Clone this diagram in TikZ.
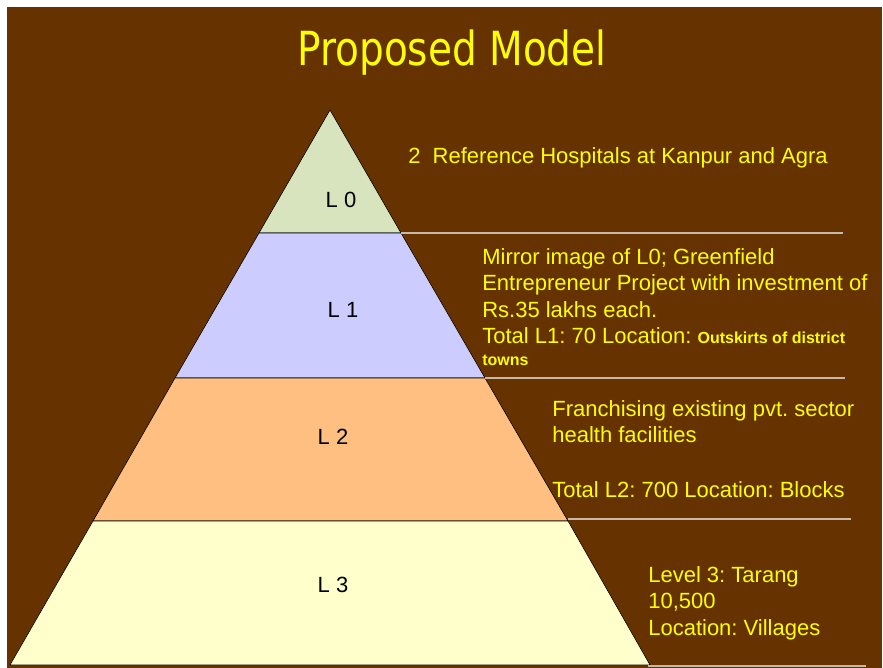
\documentclass[tikz,border=0pt]{standalone}
\usepackage{fontspec}
\setmainfont{Liberation Sans}
\newfontfamily\titlefont{DejaVu Sans}[FakeStretch=0.83]
\definecolor{slidebrown}{HTML}{663300}
\definecolor{slideyellow}{HTML}{FFFF00}
\definecolor{tierzero}{HTML}{D7E4BD}
\definecolor{tierone}{HTML}{CCCCFF}
\definecolor{tiertwo}{HTML}{FFBF80}
\definecolor{tierthree}{HTML}{FFFFCC}
\definecolor{rulegray}{HTML}{C8B8A8}
\begin{document}
\frenchspacing
\begin{tikzpicture}[x=1pt,y=-1pt,line width=.6pt,
  tier/.style={draw=black,line join=round},
  sep/.style={draw=rulegray,line width=1.2pt},
  lvl/.style={text=black,font=\fontsize{22}{24}\selectfont,inner sep=0pt},
  info/.style={text=slideyellow,font=\fontsize{22}{26.5}\selectfont,align=left,anchor=north west,inner sep=0pt}]
 \useasboundingbox (0,0) rectangle (883,668);
 \fill[white] (0,0) rectangle (883,668);
 \fill[slidebrown] (7,7) rectangle (882,668);
 \node[text=slideyellow,font=\titlefont\fontsize{47}{50}\selectfont] (title) at (452,53) {Proposed Model};
 % the four tiers, apex at (330,110), base at y=665
 \filldraw[tier,fill=tierzero] (330,110)--(401,233)--(259,233)--cycle;
 \filldraw[tier,fill=tierone] (259,233)--(401,233)--(485,378)--(175,378)--cycle;
 \filldraw[tier,fill=tiertwo] (175,378)--(485,378)--(568,521)--(93,521)--cycle;
 \filldraw[tier,fill=tierthree] (93,521)--(568,521)--(650,665)--(10,665)--cycle;
 \draw[sep] (401,233)--(843,233);
 \draw[sep] (485,378)--(845,378);
 \draw[sep] (568,519)--(851,519);
 \draw[sep] (648,666)--(866,666);
 \node[lvl] (l0) at (341,200) {L 0};
 \node[lvl] (l1) at (343,310) {L 1};
 \node[lvl] (l2) at (333,437) {L 2};
 \node[lvl] (l3) at (333,585) {L 3};
 \node[info] (t0) at (408,147) {2\ \ Reference Hospitals at Kanpur and Agra};
 \node[info] (t1) at (482,248) {Mirror image of L0; Greenfield\\
   Entrepreneur Project with investment of\\
   Rs.35 lakhs each.\\
   Total L1: 70 Location: {\bfseries\fontsize{16}{20}\selectfont Outskirts of district}\\[-5pt]
   {\bfseries\fontsize{16}{20}\selectfont towns}};
 \node[info] (t2) at (552,400) {Franchising existing pvt. sector\\
   health facilities\\[28pt]
   Total L2: 700 Location: Blocks};
 \node[info] (t3) at (648,566) {Level 3: Tarang\\ 10,500\\ Location: Villages};
\end{tikzpicture}
\end{document}
